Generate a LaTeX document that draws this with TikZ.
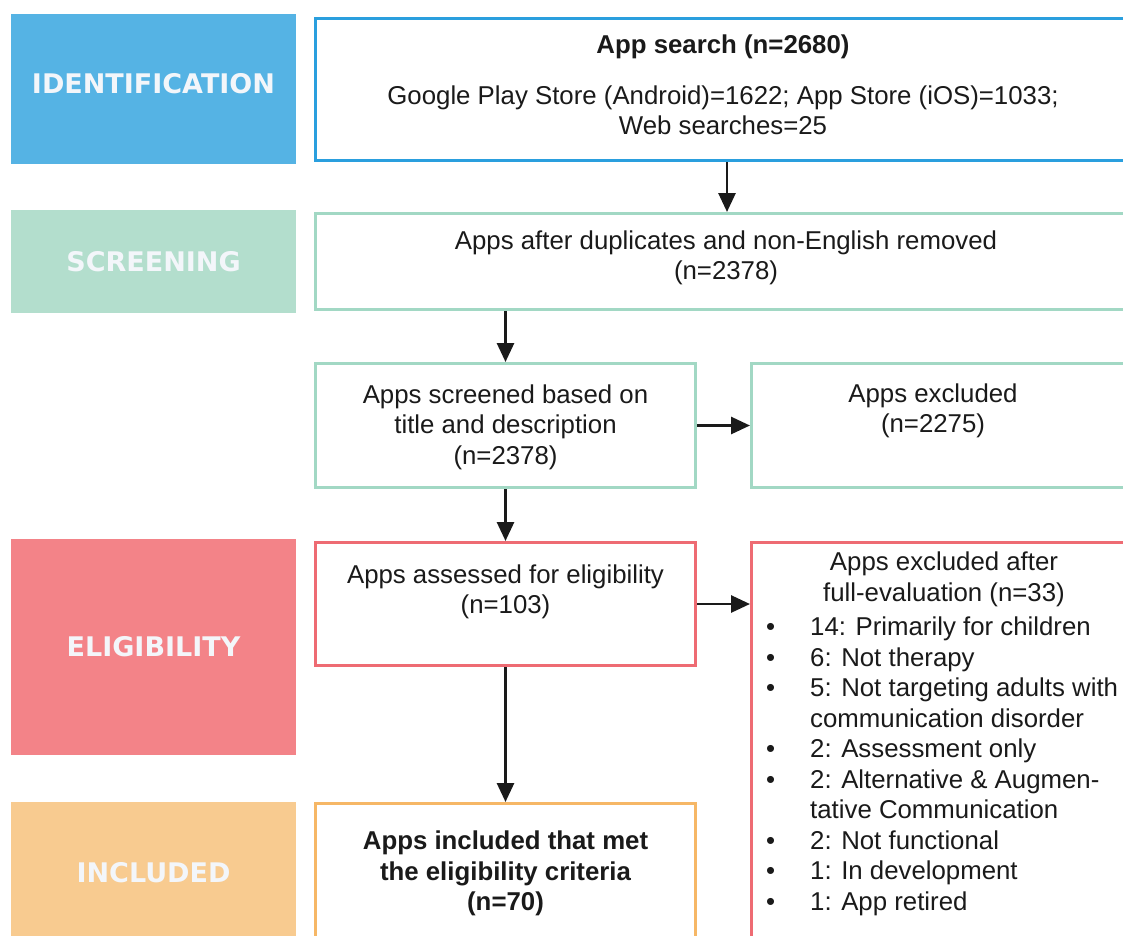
\documentclass[tikz,border=0pt]{standalone}
\usepackage{fontspec}
\setmainfont{Liberation Sans}
\newfontfamily\lblfont{DejaVu Sans}
\usetikzlibrary{arrows.meta}
\definecolor{idfill}{HTML}{55B3E4}
\definecolor{idline}{HTML}{2A9FDE}
\definecolor{scfill}{HTML}{B3DECD}
\definecolor{scline}{HTML}{A2D8C4}
\definecolor{elfill}{HTML}{F38388}
\definecolor{elline}{HTML}{EE6B73}
\definecolor{infill}{HTML}{F8CB90}
\definecolor{inline}{HTML}{F6B766}
\definecolor{lbltext}{HTML}{F3F6FA}
\definecolor{ink}{HTML}{1A1A1A}
\begin{document}
\begin{tikzpicture}[x=1pt,y=-1pt,
  box/.style={draw=#1, line width=3pt, fill=white, inner sep=0pt},
  lbl/.style={fill=#1, draw=none, inner sep=0pt, text=lbltext,
    font=\lblfont\bfseries\fontsize{27}{30}\selectfont},
  txt/.style={align=center, inner sep=0pt, text=ink, font=\fontsize{25.8}{30.5}\selectfont},
  arr/.style={line width=2.8pt, ink, -{Triangle[length=19pt,width=17pt]}}]
\useasboundingbox (0,0) rectangle (1123,935);
\clip (0,0) rectangle (1123,935);

% stage labels
\node[lbl=idfill, minimum width=285pt, minimum height=150pt] (lid) at (153.5,89) {};
\node[text=lbltext, font=\lblfont\bfseries\fontsize{27}{30}\selectfont, inner sep=0pt] (lidt) at (153.5,84) {IDENTIFICATION};
\node[lbl=scfill, minimum width=285pt, minimum height=103pt] (lsc) at (153.5,261.5) {SCREENING};
\node[lbl=elfill, minimum width=285pt, minimum height=216pt] (lel) at (153.5,647) {ELIGIBILITY};
\node[lbl=infill, minimum width=285pt, minimum height=142pt] (lin) at (153.5,873) {INCLUDED};

% boxes
\node[box=idline, minimum width=823pt, minimum height=142pt] (appsearch) at (727,89.5) {};
\node[box=scline, minimum width=823pt, minimum height=96pt] (screen) at (727,261.5) {};
\node[box=scline, minimum width=380pt, minimum height=124pt] (screened) at (505.5,425.5) {};
\node[box=scline, minimum width=375pt, minimum height=124pt] (excluded) at (939,425.5) {};
\node[box=elline, minimum width=380pt, minimum height=123pt] (assessed) at (505.5,604) {};
\node[box=elline, minimum width=387pt, minimum height=416pt] (fullexcl) at (945,750.5) {};
\node[box=inline, minimum width=380pt, minimum height=155pt] (included) at (505.5,881) {};

% texts
\node[txt, font=\bfseries\fontsize{25.8}{30.5}\selectfont] (t1a) at (723,47) {App search (n=2680)};
\node[txt] (t1b) at (723,110.5) {Google Play Store (Android)=1622; App Store (iOS)=1033;\\Web searches=25};
\node[txt] (t2) at (726,258) {Apps after duplicates and non-English removed\\(n=2378)};
\node[txt] (t3) at (505.5,427) {Apps screened based on\\title and description\\(n=2378)};
\node[txt] (t4) at (933,411) {Apps excluded\\(n=2275)};
\node[txt] (t5) at (505.5,592) {Apps assessed for eligibility\\(n=103)};
\node[txt, font=\bfseries\fontsize{25.8}{30.5}\selectfont] (t6) at (505.5,873.5) {Apps included that met\\the eligibility criteria\\(n=70)};
\node[txt] (t7) at (944,579.5) {Apps excluded after\\full-evaluation (n=33)};
\node[txt, align=left, anchor=west] (t8) at (766,766.5) {%
\makebox[44pt][l]{\textbullet}14: Primarily for children\\
\makebox[44pt][l]{\textbullet}6: Not therapy\\
\makebox[44pt][l]{\textbullet}5: Not targeting adults with\\
\hspace*{44pt}communication disorder\\
\makebox[44pt][l]{\textbullet}2: Assessment only\\
\makebox[44pt][l]{\textbullet}2: Alternative \& Augmen-\\
\hspace*{44pt}tative Communication\\
\makebox[44pt][l]{\textbullet}2: Not functional\\
\makebox[44pt][l]{\textbullet}1: In development\\
\makebox[44pt][l]{\textbullet}1: App retired};

% connectors
\draw[arr] (appsearch.south) -- (screen.north);
\draw[arr] (screen.south -| screened.north) -- (screened.north);
\draw[arr] (screened.east) -- (excluded.west);
\draw[arr] (screened.south) -- (assessed.north);
\draw[arr] (assessed.east) -- (assessed.east -| fullexcl.west);
\draw[arr] (assessed.south) -- (included.north);
\end{tikzpicture}
\end{document}
